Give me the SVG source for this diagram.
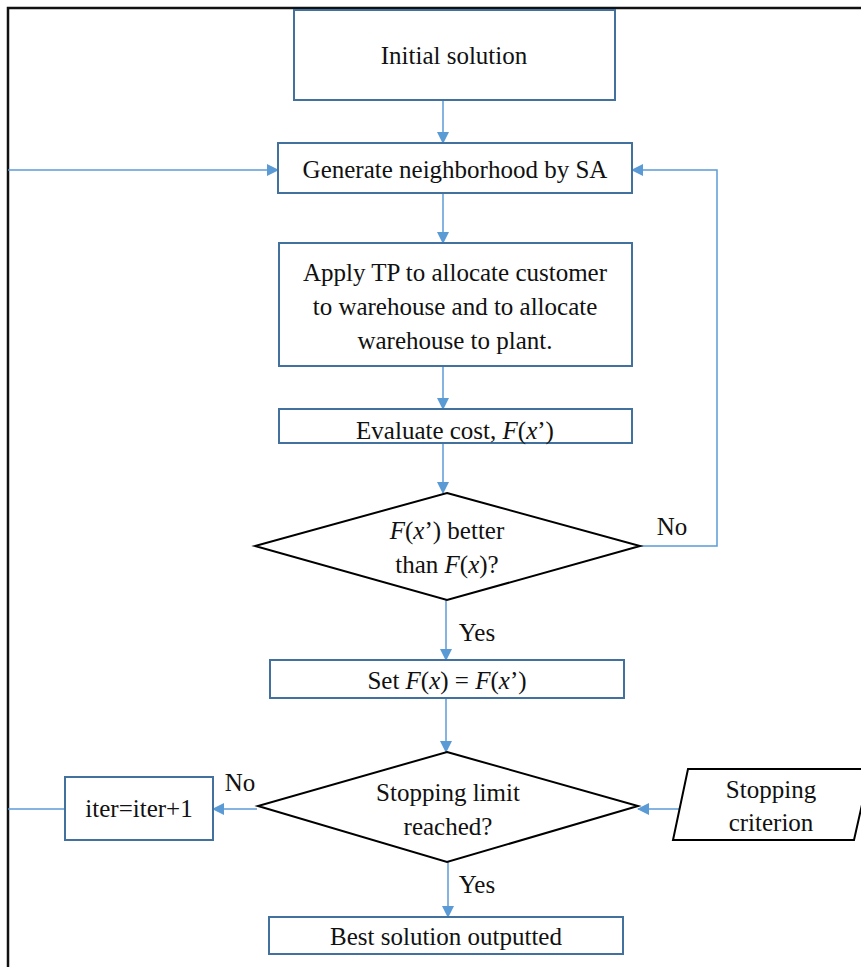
<svg xmlns="http://www.w3.org/2000/svg" width="861" height="967" viewBox="0 0 861 967">
<defs>
<marker id="ah" markerWidth="12" markerHeight="12" refX="11" refY="6" orient="auto" markerUnits="userSpaceOnUse">
<path d="M0,0 L12,6 L0,12 Z" fill="#5B9BD5"/>
</marker>
<style>
.box{fill:#fff;stroke:#41719C;stroke-width:2}
.dec{fill:#fff;stroke:#000;stroke-width:2}
.con{fill:none;stroke:#5B9BD5;stroke-width:1.5}
text{font-family:'Liberation Serif','Times New Roman',serif;font-size:25px;fill:#111;text-anchor:middle}
.i{font-style:italic}
</style>
</defs>
<rect width="861" height="967" fill="#fff"/>
<path d="M8,967 L8,8 L861,8" fill="none" stroke="#111" stroke-width="2.5"/>
<g id="connectors">
<path class="con" d="M443,100 L443,143" marker-end="url(#ah)"/>
<path class="con" d="M8,170 L278,170" marker-end="url(#ah)"/>
<path class="con" d="M640,546 L717,546 L717,170 L632,170" marker-end="url(#ah)"/>
<path class="con" d="M443,193 L443,243" marker-end="url(#ah)"/>
<path class="con" d="M443,366 L443,409" marker-end="url(#ah)"/>
<path class="con" d="M443,443 L443,493" marker-end="url(#ah)"/>
<path class="con" d="M446,600 L446,660" marker-end="url(#ah)"/>
<path class="con" d="M446,698 L446,752" marker-end="url(#ah)"/>
<path class="con" d="M448,862 L448,917" marker-end="url(#ah)"/>
<path class="con" d="M257,809 L213,809" marker-end="url(#ah)"/>
<path class="con" d="M64,809 L8,809"/>
<path class="con" d="M679,809 L638,809" marker-end="url(#ah)"/>
<text x="672" y="535">No</text>
<text x="240" y="791">No</text>
<text x="477" y="641">Yes</text>
<text x="477" y="893">Yes</text>
</g>
<g id="initial">
<rect class="box" x="294" y="10" width="321" height="90"/>
<text x="454" y="64">Initial solution</text>
</g>
<g id="generate">
<rect class="box" x="278" y="143" width="354" height="50"/>
<text x="455" y="178">Generate neighborhood by SA</text>
</g>
<g id="apply">
<rect class="box" x="279" y="243" width="353" height="123"/>
<text x="455" y="281">Apply TP to allocate customer</text>
<text x="455" y="315">to warehouse and to allocate</text>
<text x="455" y="349">warehouse to plant.</text>
</g>
<g id="evaluate">
<rect class="box" x="279" y="409" width="353" height="34"/>
<text x="455" y="439">Evaluate cost, <tspan class="i">F</tspan>(<tspan class="i">x</tspan>’)</text>
</g>
<g id="better">
<polygon class="dec" points="447,493 640,546 447,600 255,546"/>
<text x="447" y="539"><tspan class="i">F</tspan>(<tspan class="i">x</tspan>’) better</text>
<text x="447" y="573">than <tspan class="i">F</tspan>(<tspan class="i">x</tspan>)?</text>
</g>
<g id="set">
<rect class="box" x="270" y="660" width="354" height="38"/>
<text x="447" y="689">Set <tspan class="i">F</tspan>(<tspan class="i">x</tspan>) = <tspan class="i">F</tspan>(<tspan class="i">x</tspan>’)</text>
</g>
<g id="stopping">
<polygon class="dec" points="447,752 638,806 447,862 258,806"/>
<text x="448" y="801">Stopping limit</text>
<text x="448" y="835">reached?</text>
</g>
<g id="iter">
<rect class="box" x="65" y="777" width="148" height="63"/>
<text x="139" y="817">iter=iter+1</text>
</g>
<g id="criterion">
<polygon class="dec" points="688,769 870,769 854,840 673,840"/>
<text x="771" y="798">Stopping</text>
<text x="771" y="831">criterion</text>
</g>
<g id="best">
<rect class="box" x="269" y="917" width="354" height="37"/>
<text x="446" y="945">Best solution outputted</text>
</g>
</svg>
